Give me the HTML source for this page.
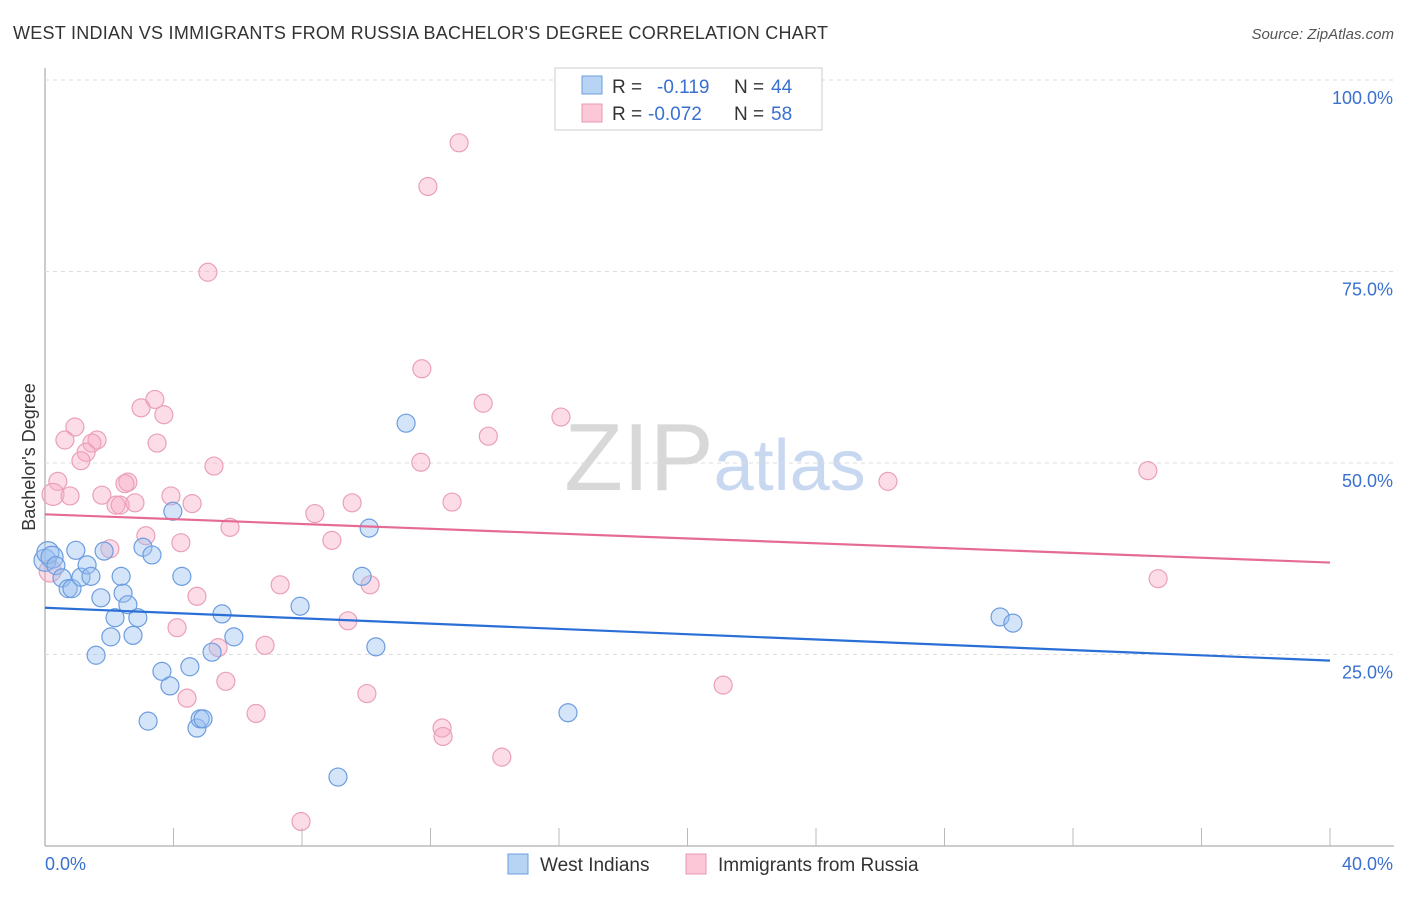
<!DOCTYPE html>
<html><head><meta charset="utf-8"><style>
body{margin:0;background:#fff;font-family:"Liberation Sans",sans-serif;}
svg text{font-family:"Liberation Sans",sans-serif;}
</style></head><body>
<svg id="chart" width="1406" height="892">
<text x="13" y="39" font-size="18" fill="#333" textLength="815">WEST INDIAN VS IMMIGRANTS FROM RUSSIA BACHELOR'S DEGREE CORRELATION CHART</text>
<text x="1394" y="39" font-size="15" fill="#555" text-anchor="end" font-style="italic">Source: ZipAtlas.com</text>
<text x="35" y="457" font-size="18" fill="#333" transform="rotate(-90 35 457)" text-anchor="middle">Bachelor's Degree</text>
<text x="715" y="490" font-size="96" fill="#ddd" text-anchor="middle" font-family="Liberation Serif"><tspan fill="#d8d8d8">ZIP</tspan><tspan fill="#c8d8f0" font-family="Liberation Sans" font-size="72">atlas</tspan></text>
<g id="grid"></g><g id="pts"></g><g id="lines"></g>
<g>
<rect x="555" y="68" width="267" height="62" fill="#fff" stroke="#ccc"/>
<rect x="582" y="76" width="20" height="18" fill="#b8d4f5" stroke="#6d9de0"/>
<rect x="582" y="104" width="20" height="18" fill="#fcc8d8" stroke="#e898b0"/>
<text x="612" y="93" font-size="19" fill="#333">R =</text><text x="657" y="93" font-size="19" fill="#3a70d0">-0.119</text>
<text x="734" y="93" font-size="19" fill="#333">N =</text><text x="771" y="93" font-size="19" fill="#3a70d0">44</text>
<text x="612" y="120" font-size="19" fill="#333">R =</text><text x="648" y="120" font-size="19" fill="#3a70d0">-0.072</text>
<text x="734" y="120" font-size="19" fill="#333">N =</text><text x="771" y="120" font-size="19" fill="#3a70d0">58</text>
</g>
<g>
<rect x="508" y="854" width="20" height="20" fill="#b8d4f5" stroke="#6d9de0"/>
<text x="540" y="871" font-size="19" fill="#333">West Indians</text>
<rect x="686" y="854" width="20" height="20" fill="#fcc8d8" stroke="#e898b0"/>
<text x="718" y="871" font-size="19" fill="#333">Immigrants from Russia</text>
</g>
</svg>
<script>
const xTicks=[0,40];
const yTicks=[25,50,75,100];
const blueX=[0,0.09,0.22,0.34,0.53,0.72,0.84,0.96,1.12,1.31,1.43,1.59,1.74,1.84,2.05,2.18,2.37,2.43,2.58,2.74,2.89,3.05,3.21,3.33,3.64,3.89,3.98,4.26,4.51,4.73,4.83,4.92,5.2,5.51,5.88,7.94,9.12,9.87,10.09,10.3,11.24,16.28,29.73,30.13];
const blueY=[37.3,38.3,37.7,36.6,35.0,33.6,33.6,38.6,35.1,36.7,35.2,24.9,32.4,38.5,27.3,29.8,35.2,33.0,31.5,27.5,29.8,39.0,16.3,38.0,22.8,20.9,43.7,35.2,23.4,15.4,16.6,16.6,25.3,30.3,27.3,31.3,9.0,35.2,41.5,26.0,55.2,17.4,29.9,29.1];
const pinkX=[12.89,11.92,5.07,11.73,3.42,2.99,3.70,13.64,0.93,0.62,1.62,1.46,1.28,1.12,3.49,13.80,16.06,11.70,5.26,0.40,0.25,0.78,1.77,2.21,2.34,2.58,2.49,2.80,3.92,4.58,9.56,12.67,8.40,5.76,3.14,4.23,8.93,2.02,34.33,26.24,34.65,10.12,7.32,4.73,9.43,4.11,5.39,6.85,5.63,4.42,10.02,21.11,6.57,12.36,12.39,14.22,7.97,0.16];
const pinkY=[91.8,86.1,74.9,62.3,58.3,57.2,56.3,57.8,54.7,53.0,53.0,52.6,51.4,50.3,52.6,53.5,56.0,50.1,49.6,47.6,45.9,45.7,45.8,44.5,44.5,47.5,47.3,44.8,45.7,44.7,44.8,44.9,43.4,41.6,40.5,39.6,39.9,38.8,49.0,47.6,34.9,34.1,34.1,32.6,29.4,28.5,25.9,26.2,21.5,19.3,19.9,21.0,17.3,15.4,14.3,11.6,3.2,35.9];
const blueTrend=[31.1,24.2];
const pinkTrend=[43.3,37.0];
const sx=v=>45+v/40*1285;
const sy=v=>846-v*7.66;
const NS="http://www.w3.org/2000/svg";
function mk(tag,attrs,parent){const e=document.createElementNS(NS,tag);for(const k in attrs)e.setAttribute(k,attrs[k]);parent.appendChild(e);return e;}
const grid=document.getElementById('grid');
mk('line',{x1:45,y1:846,x2:1394,y2:846,stroke:'#bbb','stroke-width':1.5},grid);
mk('line',{x1:45,y1:68,x2:45,y2:846,stroke:'#bbb','stroke-width':1.5},grid);
for(let i=0;i<=10;i++){const l=mk('line',{x1:sx(i*4),y1:828,x2:sx(i*4),y2:846,stroke:'#bbb'},grid);

}
yTicks.forEach(t=>{const l=mk('line',{x1:45,y1:sy(t),x2:1394,y2:sy(t),stroke:'#ddd','stroke-dasharray':'4,4'},grid);


const tx=mk('text',{x:1393,y:sy(t)+24,'font-size':18,fill:'#3a70d0','text-anchor':'end'},grid);tx.textContent=t.toFixed(1)+'%';

});
xTicks.forEach((t,i)=>{const tx=mk('text',{x:i?1393:45,y:870,'font-size':18,fill:'#3a70d0','text-anchor':i?'end':'start'},grid);tx.textContent=t.toFixed(1)+'%';

});
const pts=document.getElementById('pts');
pinkX.forEach((x,i)=>{const c=mk('circle',{cx:sx(x),cy:sy(pinkY[i]),r:(x<0.3?11:9),fill:'rgba(248,170,195,0.4)',stroke:'#eaa0b8','stroke-width':1.2},pts);

});
blueX.forEach((x,i)=>{const c=mk('circle',{cx:sx(x),cy:sy(blueY[i]),r:(x<0.25?11:9),fill:'rgba(150,190,240,0.4)',stroke:'#6d9de0','stroke-width':1.2},pts);

});
const lines=document.getElementById('lines');
const bl=mk('line',{x1:sx(0),y1:sy(blueTrend[0]),x2:sx(40),y2:sy(blueTrend[1]),stroke:'#2a6fd6','stroke-width':2.2},lines);


const pl=mk('line',{x1:sx(0),y1:sy(pinkTrend[0]),x2:sx(40),y2:sy(pinkTrend[1]),stroke:'#e56b95','stroke-width':2.2},lines);


</script>
</body></html>
